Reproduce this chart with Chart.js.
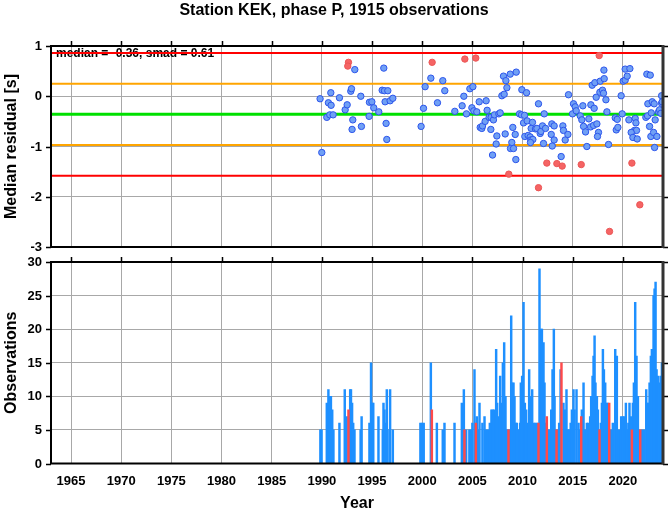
<!DOCTYPE html>
<html><head><meta charset="utf-8">
<script src="https://cdn.jsdelivr.net/npm/chart.js@4"></script>
<style>
html,body{margin:0;padding:0;background:#fff}
#wrap{position:relative;width:669px;height:511px}
canvas{position:absolute;left:0}
</style></head><body>
<div id="wrap">
<canvas id="resChart" width="669" height="255" style="top:0"></canvas>
<canvas id="obsChart" width="669" height="256" style="top:255px"></canvas>
</div>
<script>
// ── data ──
const xTicks=[1965,1970,1975,1980,1985,1990,1995,2000,2005,2010,2015,2020];
const resTicks=[1,0,-1,-2,-3];
const obsTicks=[0,5,10,15,20,25,30];
const median=-0.36, smad=0.61;
const levels=[0.86,0.25,-0.36,-0.97,-1.58];
const levelColors=['#ff0000','#ffa500','#00e000','#ffa500','#ff0000'];
const levelWidths=[2,2,3,2,2];

// [year, median residual] inside 2 smad
const okPoints=[
[1989.82,-0.05],[1989.99,-1.12],[1990.49,-0.42],[1990.65,-0.13],[1990.92,-0.18],[1990.89,0.07],[1990.79,-0.37],[1991.12,-0.37],
[1991.75,-0.03],[1992.32,-0.27],[1992.52,-0.17],[1992.88,0.10],[1992.95,0.15],[1993.28,0.53],[1993.08,-0.47],[1993.01,-0.66],
[1993.88,0.00],[1993.94,-0.60],[1994.71,-0.40],[1994.74,-0.12],[1994.98,-0.11],[1995.17,-0.23],[1995.67,-0.31],[1996.01,0.12],
[1996.24,0.11],[1996.57,0.11],[1996.17,0.56],[1996.30,-0.11],[1996.80,-0.09],[1997.07,-0.04],[1996.40,-0.54],[1996.47,-0.86],
[1999.89,-0.60],[2000.13,-0.24],[2000.29,0.19],[2000.86,0.36],[2001.52,-0.13],[2002.05,0.31],[2002.25,0.11],[2003.25,-0.30],
[2003.98,-0.19],[2004.15,0.00],[2004.41,-0.35],[2004.75,0.15],[2005.05,0.19],[2004.95,-0.23],[2005.14,-0.29],[2005.44,-0.31],
[2005.68,-0.11],[2005.78,-0.62],[2005.94,-0.64],[2006.01,-0.59],[2006.27,-0.50],[2006.37,-0.09],[2006.47,-0.28],[2006.67,-0.42],
[2006.87,-0.42],[2007.10,-0.47],[2007.20,-0.37],[2007.64,-0.35],[2007.77,-0.33],[2006.84,-0.66],[2007.01,-1.17],[2007.44,-0.79],
[2007.37,-0.95],[2007.94,0.01],[2008.17,0.04],[2008.10,0.40],[2008.34,0.31],[2008.44,0.17],[2008.27,-0.75],[2008.77,0.44],
[2008.93,-0.92],[2008.80,-1.04],[2009.10,-1.04],[2009.03,-0.62],[2009.27,-0.76],[2009.37,0.48],[2009.33,-1.26],[2009.70,-0.35],
[2009.90,-0.37],[2010.20,-0.38],[2009.93,0.13],[2010.40,0.07],[2010.10,-0.53],[2010.46,-0.49],[2010.23,-0.80],[2010.56,-0.78],
[2010.76,-0.81],[2010.83,-0.87],[2011.03,-0.86],[2010.79,-0.92],[2010.99,-0.52],[2010.86,-0.64],[2011.29,-0.65],[2011.43,-0.64],
[2011.59,-0.15],[2011.76,-0.74],[2011.83,-0.70],[2011.99,-0.59],[2012.29,-0.64],[2012.09,-0.94],[2012.16,-0.35],[2012.92,-0.55],
[2013.15,-0.59],[2012.96,-0.99],[2012.86,-0.76],[2013.15,-0.87],[2013.85,-1.20],[2014.02,-0.59],[2014.08,-0.68],[2014.25,-0.87],
[2014.52,-0.76],[2014.58,0.03],[2014.98,-0.35],[2015.08,-0.15],[2015.25,-0.21],[2015.35,-0.29],[2015.75,-0.39],[2015.91,-0.47],
[2016.08,-0.60],[2016.28,-0.71],[2016.01,-0.19],[2016.41,-1.00],[2016.61,-0.45],[2016.78,-0.61],[2017.08,-0.58],[2017.41,-0.55],
[2016.81,-0.17],[2017.14,-0.24],[2016.94,0.22],[2017.21,0.27],[2017.34,-0.02],[2017.57,-0.72],[2017.47,-0.80],[2017.71,0.08],
[2017.74,0.30],[2017.97,0.12],[2018.07,0.06],[2018.14,0.35],[2018.11,0.52],[2018.31,-0.07],[2018.41,-0.31],[2018.57,-0.96],
[2019.24,-0.43],[2019.44,-0.46],[2019.34,-0.67],[2019.50,-0.62],[2019.83,0.01],[2019.93,-0.35],[2020.03,0.30],[2020.23,0.32],
[2020.43,0.40],[2020.23,0.54],[2020.70,0.55],[2020.60,-0.47],[2021.23,-0.44],[2021.30,-0.53],[2021.16,-0.68],[2021.36,-0.68],
[2020.83,-0.72],[2021.00,-0.82],[2021.43,-0.85],[2022.39,0.44],[2022.73,0.42],[2022.29,-0.42],[2022.46,-0.39],[2022.49,-0.15],
[2022.93,-0.11],[2023.12,-0.15],[2022.66,-0.60],[2022.79,-0.80],[2023.06,-0.72],[2023.39,-0.80],[2023.16,-1.02],[2023.22,-0.47],
[2022.83,-0.33],[2023.56,-0.31],[2023.66,-0.27],[2023.79,-0.34],[2023.86,-0.14],[2023.86,0.01],[2023.92,-0.11]
];
// outliers
const outPoints=[
[1992.65,0.675],[1992.58,0.60],[2000.99,0.675],[2004.25,0.74],[2005.34,0.76],[2008.63,-1.55],[2011.59,-1.82],[2012.42,-1.33],
[2013.42,-1.34],[2013.95,-1.39],[2015.85,-1.36],[2017.64,0.81],[2018.67,-2.69],[2020.90,-1.33],[2021.69,-2.16]
];

// [year, observations per bin]
const obsBins=[
[1989.85,5],[1989.97,5],[1990.49,9],[1990.65,11],[1990.80,10],[1990.90,10],[1991.03,8],[1991.15,5],[1991.75,6],[1992.28,11],
[1992.47,7],[1992.82,11],[1992.90,11],[1993.01,9],[1993.12,6],[1993.25,5],[1993.86,5],[1993.96,7],[1994.74,6],[1994.90,15],
[1995.04,9],[1995.12,9],[1995.64,7],[1996.07,5],[1996.14,9],[1996.24,8],[1996.34,6],[1996.47,11],[1996.55,5],[1996.80,11],
[1997.07,5],[1999.82,6],[1999.98,6],[2000.15,6],[2000.86,15],[2001.46,6],[2002.05,5],[2002.22,6],[2003.22,6],[2003.95,9],
[2004.15,11],[2004.38,5],[2004.70,5],[2004.85,5],[2005.00,6],[2005.21,14],[2005.44,7],[2005.61,5],[2005.71,9],[2006.00,6],
[2006.21,7],[2006.37,5],[2006.55,5],[2006.74,6],[2006.90,8],[2007.03,8],[2007.17,8],[2007.37,17],[2007.47,9],[2007.61,7],
[2007.77,13],[2007.90,9],[2008.04,15],[2008.17,18],[2008.30,10],[2008.40,5],[2008.50,5],[2008.70,5],[2008.87,22],[2008.97,12],
[2009.10,12],[2009.20,10],[2009.33,6],[2009.43,6],[2009.60,5],[2009.76,6],[2009.83,12],[2009.96,13],[2010.10,24],[2010.23,9],
[2010.36,8],[2010.50,6],[2010.66,14],[2010.76,10],[2010.96,11],[2011.10,6],[2011.26,6],[2011.43,6],[2011.69,29],[2011.86,20],
[2011.93,20],[2012.09,18],[2012.19,12],[2012.30,6],[2012.55,5],[2012.70,5],[2012.86,8],[2012.99,14],[2013.12,20],[2013.19,10],
[2013.30,5],[2013.55,5],[2013.65,6],[2013.79,14],[2014.08,9],[2014.25,8],[2014.38,11],[2014.52,5],[2014.65,5],[2014.80,6],
[2014.92,8],[2015.08,11],[2015.18,8],[2015.38,11],[2015.58,6],[2015.70,5],[2015.91,8],[2016.08,12],[2016.25,5],[2016.41,6],
[2016.55,6],[2016.74,7],[2016.84,10],[2016.98,13],[2017.08,16],[2017.18,19],[2017.27,12],[2017.41,10],[2017.51,8],[2017.61,5],
[2017.80,6],[2017.91,9],[2018.01,17],[2018.11,14],[2018.24,12],[2018.37,9],[2018.47,9],[2018.80,5],[2019.00,6],[2019.24,17],
[2019.40,16],[2019.60,5],[2019.83,7],[2020.00,7],[2020.16,7],[2020.30,9],[2020.43,5],[2020.55,6],[2020.66,9],[2020.80,7],
[2021.00,9],[2021.10,12],[2021.23,24],[2021.36,16],[2021.50,10],[2021.56,5],[2021.90,5],[2022.10,5],[2022.33,11],[2022.43,9],
[2022.55,9],[2022.66,12],[2022.79,16],[2022.89,17],[2022.98,13],[2023.06,25],[2023.16,26],[2023.26,27],[2023.36,14],[2023.49,13],
[2023.62,12],[2023.76,13],[2023.89,15],[2023.99,15]
];
const outBins=[
[1992.65,8],[2000.96,8],[2004.21,5],[2005.35,6],[2008.60,5],[2011.59,6],[2012.42,7],[2013.39,5],[2013.88,15],[2015.85,7],
[2017.67,5],[2018.64,9],[2020.90,5],[2021.73,5]
];

const FONT='"Liberation Sans", Arial, Helvetica, sans-serif';
Chart.defaults.font.family=FONT;
Chart.defaults.color='#000';
const GRID='#a8a8a8';
const toXY=arr=>arr.map(p=>({x:p[0],y:p[1]}));

// frame, outside ticks, y labels and text in GMT style
const gmtFrame={
  id:'gmtFrame',
  beforeDatasetsDraw(chart,args,o){
    if(!o.note)return;
    const {ctx,chartArea:a}=chart;
    ctx.save();ctx.font='bold 12px '+FONT;ctx.fillStyle='#000';ctx.textBaseline='middle';ctx.textAlign='left';
    ctx.fillText(o.note,a.left+5,a.top+8);ctx.restore();
  },
  afterDatasetsDraw(chart,args,o){
    const {ctx,chartArea:a,scales}=chart;
    ctx.save();
    ctx.strokeStyle='#000';ctx.lineWidth=1.5;
    ctx.beginPath();
    o.yTicks.forEach(v=>{const y=Math.round(scales.y.getPixelForValue(v))+0.5;ctx.moveTo(a.left-5,y);ctx.lineTo(a.left,y);ctx.moveTo(a.right,y);ctx.lineTo(a.right+5,y)});
    xTicks.forEach(v=>{const x=Math.round(scales.x.getPixelForValue(v))+0.5;ctx.moveTo(x,a.top-5);ctx.lineTo(x,a.top)});
    ctx.stroke();
    ctx.lineWidth=2;
    ctx.beginPath();
    ctx.moveTo(a.right,a.top);ctx.lineTo(a.left,a.top);ctx.lineTo(a.left,a.bottom);ctx.lineTo(a.right,a.bottom);
    ctx.stroke();
    ctx.strokeStyle='#333';ctx.lineWidth=3;
    ctx.beginPath();ctx.moveTo(a.right,a.top-1);ctx.lineTo(a.right,a.bottom+1);ctx.stroke();
    // y tick labels
    ctx.fillStyle='#000';ctx.font='bold 13px '+FONT;ctx.textAlign='right';ctx.textBaseline='middle';
    o.yTicks.forEach(v=>ctx.fillText(String(v),a.left-9,scales.y.getPixelForValue(v)+0.5));
    ctx.restore();
  },
  afterDraw(chart,args,o){
    const {ctx,chartArea:a}=chart;
    ctx.save();ctx.fillStyle='#000';ctx.textAlign='center';ctx.textBaseline='middle';
    if(o.title){ctx.font='bold 16px '+FONT;ctx.fillText(o.title,334,11)}
    if(o.xTitle){ctx.font='bold 16px '+FONT;ctx.fillText(o.xTitle,(a.left+a.right)/2,o.xTitleY)}
    if(o.yTitle){
      ctx.font='bold 16px '+FONT;
      ctx.translate(12,(a.top+a.bottom)/2);ctx.rotate(-Math.PI/2);ctx.fillText(o.yTitle,0,0);
    }
    ctx.restore();
  }
};

const xScaleBase={
  type:'linear',min:1963,max:2024,offset:false,
  afterBuildTicks:s=>{s.ticks=xTicks.map(v=>({value:v}))},
  grid:{color:GRID,lineWidth:1,drawTicks:false,offset:false},
  border:{display:false}
};
const yScaleBase={
  ticks:{display:false},
  grid:{color:GRID,drawTicks:false},border:{display:false},
  afterFit:s=>{s.width=51}
};

// ── top panel: median residuals ──
new Chart(document.getElementById('resChart'),{
  type:'scatter',
  data:{datasets:[
    {data:toXY(okPoints),pointRadius:3.2,pointBorderWidth:1,backgroundColor:'rgb(112,160,245)',borderColor:'rgb(45,85,235)',order:0},
    {data:toXY(outPoints),pointRadius:3.2,pointBorderWidth:1,backgroundColor:'rgb(245,100,100)',borderColor:'rgb(235,85,85)',order:0},
    ...levels.map((v,i)=>({type:'line',data:[{x:1963,y:v},{x:2024,y:v}],borderColor:levelColors[i],borderWidth:levelWidths[i],pointRadius:0,order:1}))
  ]},
  options:{
    responsive:false,animation:false,
    layout:{padding:{top:46,left:0,right:6,bottom:8}},
    plugins:{legend:{display:false},tooltip:{enabled:false},
      gmtFrame:{yTicks:resTicks,note:'median = '+median.toFixed(2)+', smad = '+smad.toFixed(2),
        title:'Station KEK, phase P, 1915 observations',yTitle:'Median residual [s]'}},
    scales:{
      x:{...xScaleBase,ticks:{display:false},afterFit:s=>{s.height=0}},
      y:{...yScaleBase,min:-3,max:1,afterBuildTicks:s=>{s.ticks=resTicks.map(v=>({value:v}))}}
    }
  },
  plugins:[gmtFrame]
});

// ── bottom panel: observations per bin ──
new Chart(document.getElementById('obsChart'),{
  type:'bar',
  data:{datasets:[
    {data:toXY(obsBins),backgroundColor:'#1e90ff',barThickness:1.8,grouped:false,order:1},
    {data:toXY(outBins),backgroundColor:'#ff4a4a',barThickness:1.8,grouped:false,order:0}
  ]},
  options:{
    responsive:false,animation:false,
    layout:{padding:{top:7,left:0,right:6,bottom:0}},
    plugins:{legend:{display:false},tooltip:{enabled:false},
      gmtFrame:{yTicks:obsTicks,yTitle:'Observations',xTitle:'Year',xTitleY:249}},
    scales:{
      x:{...xScaleBase,ticks:{display:true,font:{size:13,weight:'bold'},color:'#000',padding:10,maxRotation:0,autoSkip:false,callback:v=>String(v)},
        afterFit:s=>{s.height=47.5}},
      y:{...yScaleBase,min:0,max:30,afterBuildTicks:s=>{s.ticks=obsTicks.map(v=>({value:v}))}}
    }
  },
  plugins:[gmtFrame]
});
</script>
</body></html>
